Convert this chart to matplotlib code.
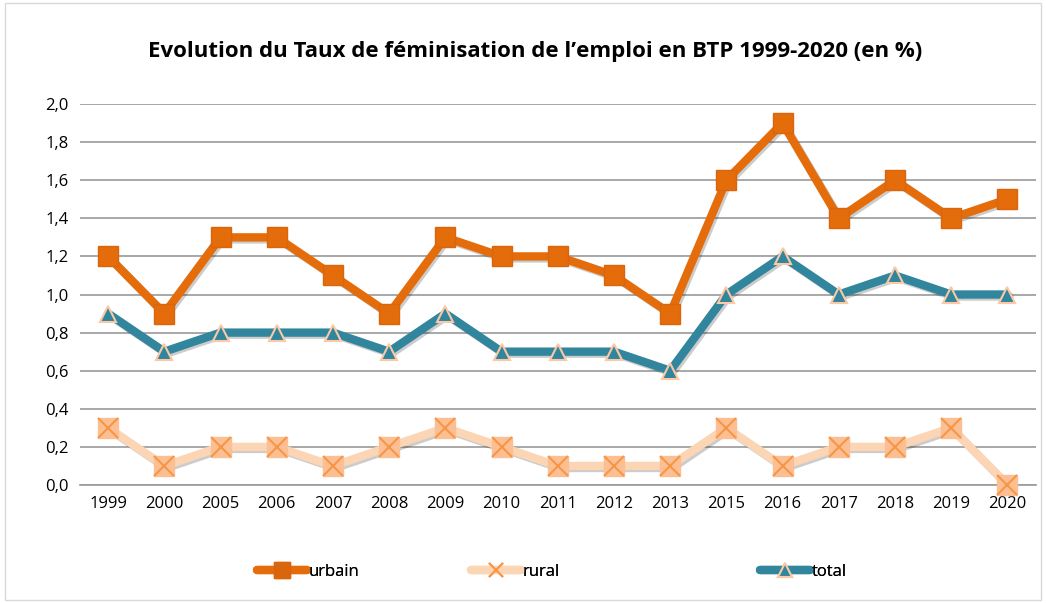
import matplotlib
matplotlib.use("Agg")
import matplotlib.pyplot as plt
import matplotlib.patheffects as pe
from matplotlib.lines import Line2D

years = ["1999", "2000", "2005", "2006", "2007", "2008", "2009", "2010", "2011",
         "2012", "2013", "2015", "2016", "2017", "2018", "2019", "2020"]
urbain = [1.2, 0.9, 1.3, 1.3, 1.1, 0.9, 1.3, 1.2, 1.2, 1.1, 0.9, 1.6, 1.9, 1.4, 1.6, 1.4, 1.5]
rural = [0.3, 0.1, 0.2, 0.2, 0.1, 0.2, 0.3, 0.2, 0.1, 0.1, 0.1, 0.3, 0.1, 0.2, 0.2, 0.3, 0.0]
total = [0.9, 0.7, 0.8, 0.8, 0.8, 0.7, 0.9, 0.7, 0.7, 0.7, 0.6, 1.0, 1.2, 1.0, 1.1, 1.0, 1.0]
yticks = [0.0, 0.2, 0.4, 0.6, 0.8, 1.0, 1.2, 1.4, 1.6, 1.8, 2.0]

plt.rcParams['font.family'] = ['Open Sans', 'DejaVu Sans']

fig = plt.figure(figsize=(10.46, 6.03), dpi=100)
ax = fig.add_axes([0.0765, 0.1957, 0.9135, 0.6318])

x = list(range(len(years)))
shadow = [pe.SimpleLineShadow(offset=(1.5, -1.5), alpha=0.2, shadow_color='black'), pe.Normal()]

ax.plot(x, total, color='#31859c', lw=6, zorder=3, solid_capstyle='round',
        solid_joinstyle='round', path_effects=shadow, clip_on=False)
ax.plot(x, total, ls='none', marker='^', ms=11, mfc='#31859c', mec='#fbc9a6', mew=1.5,
        zorder=3.5, clip_on=False)

ax.plot(x, rural, color='#fcd5b4', lw=6, zorder=3, solid_capstyle='round',
        solid_joinstyle='round', path_effects=shadow, clip_on=False)
ax.plot(x, rural, ls='none', marker='s', ms=15, mfc='#fbbf93', mec='#fbbf93', zorder=4,
        clip_on=False)
ax.plot(x, rural, ls='none', marker='x', ms=14, mec='#f79646', mew=1.5, zorder=5,
        clip_on=False)

ax.plot(x, urbain, color='#e46c0a', lw=6, zorder=6, solid_capstyle='round',
        solid_joinstyle='round', path_effects=shadow, clip_on=False)
ax.plot(x, urbain, ls='none', marker='s', ms=15, mfc='#e46c0a', mec='#d9650c', mew=1,
        zorder=6.5, clip_on=False)

ax.set_xlim(-0.5, len(years) - 0.5)
ax.set_ylim(0, 2.0)
ax.set_yticks(yticks)
ax.set_yticklabels([f"{v:.1f}".replace('.', ',') for v in yticks], fontsize=12)
ax.set_xticks(x)
ax.set_xticklabels(years, fontsize=12)
ax.yaxis.grid(True, color='#9a9a9a', lw=1.2)
ax.set_axisbelow(True)
for s in ['left', 'right', 'top']:
    ax.spines[s].set_visible(False)
ax.spines['bottom'].set_color('#9a9a9a')
ax.spines['bottom'].set_linewidth(1.2)
ax.spines['bottom'].set_zorder(0.5)
ax.tick_params(axis='both', length=0, pad=8)

fig.text(0.512, 0.915, "Evolution du Taux de féminisation de l\u2019emploi en BTP 1999-2020 (en %)",
         ha='center', va='center', fontsize=16, fontweight='bold')

h_u = Line2D([], [], color='#e46c0a', lw=6, marker='s', ms=12, mfc='#d9650c', mec='#d9650c',
             solid_capstyle='round')
h_r = Line2D([], [], color='#fcd5b4', lw=6, marker='x', ms=10, mec='#f79646', mew=1.5,
             solid_capstyle='round')
h_t = Line2D([], [], color='#31859c', lw=6, marker='^', ms=10, mfc='#31859c', mec='#fbc9a6',
             mew=1.5, solid_capstyle='round')
for h, lab, xpos in [(h_u, 'urbain', 0.246), (h_r, 'rural', 0.450), (h_t, 'total', 0.727)]:
    lg = fig.legend([h], [lab], loc='center left', bbox_to_anchor=(xpos, 0.052),
                    frameon=False, fontsize=12, handlelength=3.0, handletextpad=0.1,
                    borderpad=0, borderaxespad=0)
    fig.add_artist(lg)

fig.patches.append(plt.Rectangle((0.005, 0.005), 0.99, 0.99, transform=fig.transFigure,
                                 fill=False, edgecolor='#d9d9d9', lw=1))

fig.savefig("out.png", dpi=100)
